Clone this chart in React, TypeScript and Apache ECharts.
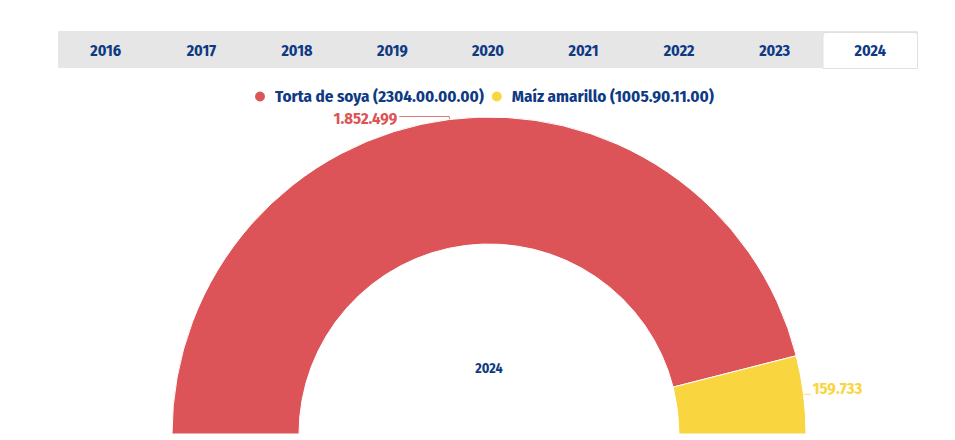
import React, { useEffect, useRef } from "react";
import * as echarts from "echarts";

const years = ["2016", "2017", "2018", "2019", "2020", "2021", "2022", "2023", "2024"];
const activeYear = "2024";
const products = ["Torta de soya (2304.00.00.00)", "Maíz amarillo (1005.90.11.00)"];
const values = [1852499, 159733];
const colors = ["#DC5457", "#F9D540"];
const labelTexts = ["1.852.499", "159.733"];

const BLUE = "#0E3A84";
const FONT = "'Fira Sans Condensed', 'Roboto Condensed', sans-serif";

export default function App() {
  const ref = useRef<HTMLDivElement>(null);
  useEffect(() => {
    if (!ref.current) return;
    const chart = echarts.init(ref.current, null, { renderer: "svg" });
    const tabLeft = 58;
    const tabRight = 918;
    const tabW = (tabRight - tabLeft) / years.length;
    const tabElems: any[] = [
      {
        type: "rect",
        shape: { x: tabLeft, y: 31, width: tabRight - tabLeft, height: 37 },
        style: { fill: "#E6E6E6" },
        silent: true,
      },
    ];
    years.forEach((y, i) => {
      const x = tabLeft + i * tabW;
      if (y === activeYear) {
        tabElems.push({
          type: "rect",
          shape: { x: x + 0.5, y: 32.5, width: tabW - 1, height: 36, r: [3, 3, 0, 0] },
          style: { fill: "#FFFFFF", stroke: "#E0E0E0", lineWidth: 1 },
          silent: true,
        });
      }
      tabElems.push({
        type: "text",
        x: x + tabW / 2,
        y: 50,
        style: {
          text: y,
          fill: BLUE,
          font: `bold 16px ${FONT}`,
          align: "center",
          verticalAlign: "middle",
        },
        silent: true,
      });
    });
    tabElems.push({
      type: "text",
      x: 489,
      y: 368,
      style: {
        text: activeYear,
        fill: BLUE,
        font: `bold 14px ${FONT}`,
        align: "center",
        verticalAlign: "middle",
      },
      silent: true,
    });

    chart.setOption({
      animation: false,
      graphic: tabElems,
      legend: {
        top: 83,
        left: 248,
        icon: "circle",
        itemWidth: 20,
        itemHeight: 12,
        itemGap: 6,
        textStyle: { color: BLUE, fontWeight: "bold", fontSize: 17, fontFamily: FONT },
        data: products,
      },
      series: [
        {
          type: "pie",
          center: [489, 434],
          radius: [190, 317],
          startAngle: 180,
          endAngle: 360,
          avoidLabelOverlap: false,
          itemStyle: { borderColor: "#fff", borderWidth: 1 },
          label: {
            show: true,
            position: "outside",
            fontWeight: "bold",
            fontSize: 16.5,
            fontFamily: FONT,
            distanceToLabelLine: 2,
          },
          labelLayout: (params: any) =>
            params.dataIndex === 1 ? { dy: -6 } : { dy: 2 },
          data: products.map((name, i) => ({
            name,
            value: values[i],
            itemStyle: { color: colors[i] },
            label: { color: colors[i], formatter: () => labelTexts[i] },
            labelLine: {
              show: true,
              length: i === 0 ? 3 : 2,
              length2: i === 0 ? 50 : 5,
              lineStyle: { color: colors[i], width: 1, opacity: 0.8 },
            },
          })),
        },
      ],
    });
    return () => chart.dispose();
  }, []);
  return (
    <div
      ref={ref}
      style={{ position: "absolute", left: 0, top: 0, width: 955, height: 440 }}
    />
  );
}
